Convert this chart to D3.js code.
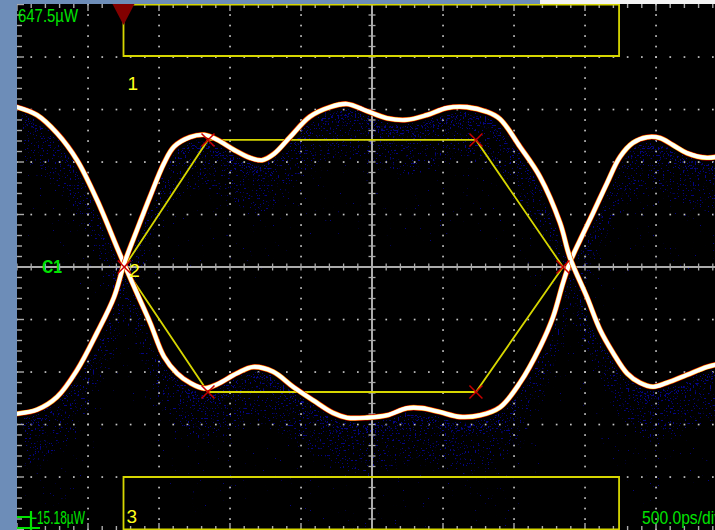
<!DOCTYPE html>
<html>
<head>
<meta charset="utf-8">
<script src="https://cdn.jsdelivr.net/npm/d3@7"></script>
<style>
  html, body { margin: 0; padding: 0; background: #000; overflow: hidden; }
  svg { display: block; }
  text { font-family: "Liberation Sans", Arial, sans-serif; }
</style>
</head>
<body>
<svg id="scope" width="715" height="530"></svg>
<script>
// ---- Screen settings -------------------------------------------------------
const timeRange = [0, 5000];          // ps, 10 div x 500 ps/div
const powerRange = [-15.18, 647.5];   // µW, bottom and top of screen
const divisions = 10;
const minorPerDiv = 5;
const timePerDiv = 500;               // ps/div
const channelName = "C1";

// ---- Eye traces: [time ps, optical power µW] -------------------------------
// falls from the high level, runs along the low level, rises again
const traceA = [
  [0, 518], [141, 508], [282, 485], [423, 451], [563, 401], [704, 341], [754, 320],
  [845, 283], [937, 246], [1035, 203], [1127, 182], [1218, 170], [1317, 163],
  [1408, 168], [1549, 182], [1662, 190], [1803, 184], [1944, 165], [2085, 148],
  [2225, 132], [2324, 126], [2465, 126], [2606, 129], [2746, 138], [2852, 138],
  [2979, 133], [3120, 127], [3261, 129], [3401, 139], [3542, 170], [3683, 215],
  [3775, 253], [3845, 296], [3894, 322], [3965, 350], [4056, 384], [4155, 422],
  [4246, 455], [4338, 473], [4437, 480], [4528, 479], [4620, 470], [4718, 460],
  [4859, 454], [4951, 456], [5000, 457]
];
// rises from the low level, runs along the high level, falls again
const traceB = [
  [0, 131], [141, 136], [282, 152], [423, 186], [563, 233], [683, 278], [754, 320],
  [845, 363], [937, 405], [1035, 447], [1106, 468], [1218, 480], [1317, 483],
  [1408, 477], [1528, 464], [1641, 454], [1725, 451], [1810, 459], [1922, 480],
  [2063, 506], [2204, 518], [2324, 522], [2465, 513], [2606, 504], [2746, 502],
  [2887, 508], [3028, 517], [3169, 518], [3310, 512], [3401, 503], [3542, 468],
  [3683, 430], [3824, 372], [3894, 328], [4014, 278], [4106, 237], [4197, 208],
  [4296, 182], [4387, 170], [4479, 165], [4577, 170], [4718, 180], [4859, 190],
  [4951, 194], [5000, 195]
];

// ---- Eye mask: [time ps, power µW] -----------------------------------------
const maskTop = [[750, 647.5], [4240, 647.5], [4240, 582.5], [750, 582.5]];
const maskCenter = [[755, 316.2], [1345, 476.5], [3232, 476.5], [3845, 316.2], [3232, 158.4], [1345, 158.4]];
const maskBottom = [[750, 51.1], [4240, 51.1], [4240, -15.18], [750, -15.18]];
const maskNames = ["1", "2", "3"];
const triggerTime = 750;              // ps

// ---- Scales ----------------------------------------------------------------
const x = d3.scaleLinear().domain(timeRange).range([17, 727]);
const y = d3.scaleLinear().domain(powerRange).range([529.5, 4.5]);
const xDiv = (timeRange[1] - timeRange[0]) / divisions;
const yDiv = (powerRange[1] - powerRange[0]) / divisions;
const xMinor = d3.range(0, divisions * minorPerDiv + 1).map(i => timeRange[0] + i * xDiv / minorPerDiv);
const yMinor = d3.range(0, divisions * minorPerDiv + 1).map(i => powerRange[0] + i * yDiv / minorPerDiv);
const xMajor = d3.range(1, divisions).map(i => timeRange[0] + i * xDiv);
const yMajor = d3.range(1, divisions).map(i => powerRange[0] + i * yDiv);
const xMid = timeRange[0] + xDiv * divisions / 2;
const yMid = powerRange[0] + yDiv * divisions / 2;

const svg = d3.select("#scope");
const W = 715, H = 530;

const defs = svg.append("defs");
defs.append("clipPath").attr("id", "plot-clip")
  .append("rect").attr("x", 17).attr("y", 4).attr("width", W - 17).attr("height", H - 4);

// Persistence speckle: noise thresholded against a blurred density band
function speckleFilter(id, seed, freq, blur, k, offset, rgb) {
  const f = defs.append("filter").attr("id", id)
    .attr("filterUnits", "userSpaceOnUse")
    .attr("x", 0).attr("y", 0).attr("width", W).attr("height", H)
    .attr("color-interpolation-filters", "sRGB");
  f.append("feGaussianBlur").attr("in", "SourceAlpha").attr("stdDeviation", blur).attr("result", "dens");
  f.append("feTurbulence").attr("type", "fractalNoise").attr("baseFrequency", freq)
    .attr("numOctaves", 1).attr("seed", seed).attr("result", "noise");
  f.append("feColorMatrix").attr("in", "noise").attr("type", "matrix")
    .attr("values", "0 0 0 0 0  0 0 0 0 0  0 0 0 0 0  1 0 0 0 0").attr("result", "na");
  f.append("feComposite").attr("in", "na").attr("in2", "dens").attr("operator", "arithmetic")
    .attr("k1", 0).attr("k2", 0.5).attr("k3", 0.5).attr("k4", 0).attr("result", "sum");
  f.append("feColorMatrix").attr("in", "sum").attr("type", "matrix")
    .attr("values", `0 0 0 0 ${rgb[0]}  0 0 0 0 ${rgb[1]}  0 0 0 0 ${rgb[2]}  0 0 0 ${k} ${offset}`);
}
speckleFilter("speckle-blue", 11, 0.6, 4, 40, -26, [0.02, 0.02, 0.52]);
speckleFilter("speckle-red", 29, 0.7, 3, 40, -28.6, [0.9, 0.0, 0.0]);

// ---- Frame -----------------------------------------------------------------
svg.append("rect").attr("width", W).attr("height", H).attr("fill", "#000");

const plot = svg.append("g").attr("clip-path", "url(#plot-clip)");

// Graticule: dotted division lines
const grid = plot.append("g").attr("fill", "#c4c4c4");
xMajor.filter(t => t !== xMid).forEach(t => {
  grid.selectAll(null).data(yMinor).join("rect")
    .attr("x", x(t) - 0.8).attr("y", p => y(p) - 0.8).attr("width", 1.7).attr("height", 1.7);
});
yMajor.filter(p => Math.abs(p - yMid) > 1e-6).forEach(p => {
  grid.selectAll(null).data(xMinor).join("rect")
    .attr("x", t => x(t) - 0.8).attr("y", y(p) - 0.8).attr("width", 1.7).attr("height", 1.7);
});

// ---- Speckle under the traces -----------------------------------------------
const bandArea = d => d3.area().curve(d3.curveCatmullRom)
  .x(v => x(v[0])).y0(v => y(v[1])).y1(v => y(v[1]) + d);

[traceA, traceB].forEach(tr => {
  const g = plot.append("g").attr("filter", "url(#speckle-blue)");
  g.append("path").attr("d", bandArea(135)(tr)).attr("fill", "#fff").attr("fill-opacity", 0.56);
  g.append("path").attr("d", bandArea(55)(tr)).attr("fill", "#fff").attr("fill-opacity", 0.22);
  g.append("path").attr("d", bandArea(16)(tr)).attr("fill", "#fff").attr("fill-opacity", 0.25);
});
[traceA, traceB].forEach(tr => {
  const g = plot.append("g").attr("filter", "url(#speckle-red)");
  g.append("path").attr("d", bandArea(90)(tr)).attr("fill", "#fff").attr("fill-opacity", 0.5);
  g.append("path").attr("d", bandArea(12)(tr)).attr("fill", "#fff").attr("fill-opacity", 0.35);
});

// ---- Centre lines with minor ticks -----------------------------------------
const axisCol = "#ababab";
const centre = plot.append("g").attr("stroke", axisCol);
centre.append("line").attr("x1", 17).attr("x2", W).attr("y1", y(yMid)).attr("y2", y(yMid)).attr("stroke-width", 2);
centre.append("line").attr("x1", x(xMid)).attr("x2", x(xMid)).attr("y1", 4).attr("y2", H).attr("stroke-width", 2);
centre.selectAll(".tx").data(xMinor).join("line")
  .attr("x1", t => x(t)).attr("x2", t => x(t))
  .attr("y1", y(yMid) - 3.5).attr("y2", y(yMid) + 3.5).attr("stroke-width", 1.3);
centre.selectAll(".ty").data(yMinor).join("line")
  .attr("y1", p => y(p)).attr("y2", p => y(p))
  .attr("x1", x(xMid) - 3.5).attr("x2", x(xMid) + 3.5).attr("stroke-width", 1.3);

// Edge ticks
const edge = plot.append("g").attr("stroke", axisCol).attr("stroke-width", 1.4);
const isMajorT = t => Math.abs(((t - timeRange[0]) / xDiv) - Math.round((t - timeRange[0]) / xDiv)) < 1e-6;
const isMajorP = p => Math.abs(((p - powerRange[0]) / yDiv) - Math.round((p - powerRange[0]) / yDiv)) < 1e-6;
edge.selectAll(".top").data(xMinor).join("line")
  .attr("x1", t => x(t)).attr("x2", t => x(t))
  .attr("y1", 4).attr("y2", t => 4 + (isMajorT(t) ? 7 : 4));
edge.selectAll(".bot").data(xMinor).join("line")
  .attr("x1", t => x(t)).attr("x2", t => x(t))
  .attr("y1", H).attr("y2", t => H - (isMajorT(t) ? 7 : 4));
edge.selectAll(".left").data(yMinor).join("line")
  .attr("y1", p => y(p)).attr("y2", p => y(p))
  .attr("x1", 17).attr("x2", p => 17 + (isMajorP(p) ? 7 : 5));

// ---- Mask outlines -----------------------------------------------------------
const maskCol = "#d6d600";
const poly = pts => "M" + pts.map(p => `${x(p[0])},${y(p[1])}`).join("L") + "Z";
const masks = plot.append("g").attr("fill", "none").attr("stroke", maskCol).attr("stroke-width", 1.8);
[maskTop, maskCenter, maskBottom].forEach(m => masks.append("path").attr("d", poly(m)));

// ---- Traces --------------------------------------------------------------------
const line = d3.line().curve(d3.curveCatmullRom).x(v => x(v[0])).y(v => y(v[1]));
const traces = plot.append("g").attr("fill", "none").attr("stroke-linejoin", "round").attr("stroke-linecap", "round");
[traceA, traceB].forEach(tr => {
  traces.append("path").attr("d", line(tr)).attr("stroke", "#e00000").attr("stroke-width", 5.6);
  traces.append("path").attr("d", line(tr)).attr("stroke", "#ffff50").attr("stroke-width", 4.6);
  traces.append("path").attr("d", line(tr)).attr("stroke", "#ffffff").attr("stroke-width", 3.6);
});

// Mask vertex markers
const marks = plot.append("g").attr("stroke", "#c80000").attr("stroke-width", 1.5);
maskCenter.forEach(p => {
  const cx = x(p[0]), cy = y(p[1]), r = 6.5;
  marks.append("path").attr("d", `M${cx - r},${cy - r}L${cx + r},${cy + r}M${cx - r},${cy + r}L${cx + r},${cy - r}`);
});

// Mask numbers
const yellowText = plot.append("g").attr("fill", "#ffff1a").attr("font-size", 19);
yellowText.append("text").attr("x", x(maskTop[0][0]) + 4).attr("y", y(maskTop[3][1]) + 34).text(maskNames[0]);
yellowText.append("text").attr("x", x(maskCenter[0][0]) + 5).attr("y", y(maskCenter[0][1]) + 10).text(maskNames[1]);
yellowText.append("text").attr("x", x(maskBottom[0][0]) + 3).attr("y", y(maskBottom[0][1]) + 46).text(maskNames[2]);

// Trigger marker
const tx = x(triggerTime);
svg.append("path").attr("d", `M${tx - 11},4L${tx + 11},4L${tx},25Z`).attr("fill", "#820000");

// ---- Readouts ----------------------------------------------------------------------
const green = "#00e400";
const fmt1 = d3.format(".1f"), fmt2 = d3.format(".2f");
svg.append("text").attr("x", 18).attr("y", 22).attr("fill", green).attr("font-size", 18)
  .attr("textLength", 60).attr("lengthAdjust", "spacingAndGlyphs")
  .text(fmt1(powerRange[1]) + "µW");

// Channel ground marker and bottom readout
const bottomLabel = fmt2(powerRange[0]) + "µW";
const gnd = svg.append("g").attr("stroke", green).attr("stroke-width", 2.2).attr("fill", "none");
gnd.append("path").attr("d", "M17,517H31M31,511V530M17,528H40");
svg.append("text").attr("x", 30).attr("y", 524).attr("fill", green).attr("font-size", 18)
  .attr("textLength", 55).attr("lengthAdjust", "spacingAndGlyphs")
  .text(bottomLabel.replace("-", ""));

svg.append("text").attr("x", 642).attr("y", 523.5).attr("fill", green).attr("font-size", 18)
  .attr("textLength", 80).attr("lengthAdjust", "spacingAndGlyphs")
  .text(fmt1(timePerDiv) + "ps/div");

svg.append("text").attr("x", 42).attr("y", 273).attr("fill", green).attr("font-size", 18)
  .attr("font-weight", "bold").attr("textLength", 20).attr("lengthAdjust", "spacingAndGlyphs")
  .text(channelName);

// Window edges
svg.append("rect").attr("x", 0).attr("y", 0).attr("width", 17).attr("height", H).attr("fill", "#6d8db8");
svg.append("rect").attr("x", 0).attr("y", 0).attr("width", 540).attr("height", 4).attr("fill", "#6d8db8");
svg.append("rect").attr("x", 540).attr("y", 0).attr("width", W - 540).attr("height", 4).attr("fill", "#f3f3f3");
</script>
</body>
</html>
